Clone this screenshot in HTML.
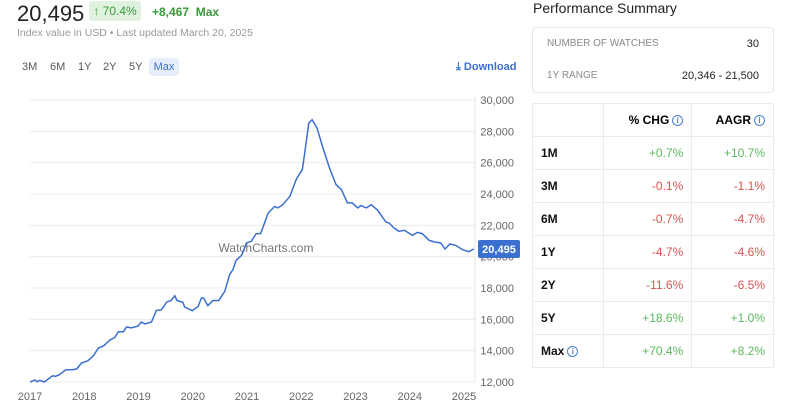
<!DOCTYPE html>
<html><head><meta charset="utf-8"><style>
body{margin:0;width:800px;height:409px;overflow:hidden;background:#fff;font-family:"Liberation Sans",sans-serif;position:relative}
.a{position:absolute}
.sum{left:532px;top:27px;width:240px;height:64px;border:1px solid #e6e8eb;border-radius:4px}
table{position:absolute;left:532px;top:103px;width:242px;border-collapse:collapse}
td{border:1px solid #e9ebee;height:32px;font-size:12px;padding:0 8px;text-align:right}
td:first-child{text-align:left;font-weight:bold;color:#111;width:54px}
.g{color:#5cb85c}.r{color:#d9534f}
.i{display:inline-block;width:9px;height:9px;border:1px solid #4a7fd6;border-radius:50%;font-size:8px;line-height:9px;text-align:center;color:#4a7fd6;font-weight:bold;vertical-align:1px;margin-left:3px}
.tab{font-size:11px;color:#555;top:58px;height:18px;line-height:18px}
</style></head><body>
<div class="a" style="left:17px;top:1px;font-size:22px;color:#222;line-height:26px">20,495</div>
<div class="a" style="left:89px;top:1px;width:52px;height:20px;background:#dff1df;border-radius:3px;color:#3a9a3a;font-size:12px;line-height:20px;text-align:center">↑ 70.4%</div>
<div class="a" style="left:152px;top:5px;font-size:12px;color:#3a9a3a;font-weight:bold">+8,467&nbsp; Max</div>
<div class="a" style="left:17px;top:27px;font-size:10.5px;color:#999">Index value in USD • Last updated March 20, 2025</div>
<div class="a tab" style="left:22px">3M</div>
<div class="a tab" style="left:50px">6M</div>
<div class="a tab" style="left:78px">1Y</div>
<div class="a tab" style="left:103px">2Y</div>
<div class="a tab" style="left:129px">5Y</div>
<div class="a tab" style="left:149px;width:30px;background:#e6eefb;border-radius:4px;text-align:center;color:#3b6fd0">Max</div>
<div class="a" style="left:456px;top:61px;font-size:11px;color:#3b6fd0;font-weight:bold;line-height:12px">⤓ Download</div>

<svg class="a" style="left:0;top:0" width="530" height="409">
<g id="grid"></g><g id="xt"></g>
<text x="266" y="252" text-anchor="middle" font-size="12" fill="#777">WatchCharts.com</text>
<path id="line" fill="none" stroke="#3b6fd0" stroke-width="1.5"/>
<rect x="478" y="240" width="42" height="18" rx="2" fill="#3b6fd0"/>
<text x="499" y="253" text-anchor="middle" font-size="11" font-weight="bold" fill="#fff">20,495</text>
</svg>

<div class="a" style="left:533px;top:0;font-size:14px;color:#222">Performance Summary</div>
<div class="a sum">
<div class="a" style="left:14px;top:10px;font-size:10px;color:#888">NUMBER OF WATCHES</div>
<div class="a" style="right:14px;top:10px;font-size:11px;color:#222">30</div>
<div class="a" style="left:14px;top:42px;font-size:10px;color:#888">1Y RANGE</div>
<div class="a" style="right:14px;top:42px;font-size:11px;color:#222">20,346 - 21,500</div>
</div>
<table>
<tr><td></td><td style="font-weight:bold">% CHG<span class="i">i</span></td><td style="font-weight:bold">AAGR<span class="i">i</span></td></tr>
<tr><td>1M</td><td class="g">+0.7%</td><td class="g">+10.7%</td></tr>
<tr><td>3M</td><td class="r">-0.1%</td><td class="r">-1.1%</td></tr>
<tr><td>6M</td><td class="r">-0.7%</td><td class="r">-4.7%</td></tr>
<tr><td>1Y</td><td class="r">-4.7%</td><td class="r">-4.6%</td></tr>
<tr><td>2Y</td><td class="r">-11.6%</td><td class="r">-6.5%</td></tr>
<tr><td>5Y</td><td class="g">+18.6%</td><td class="g">+1.0%</td></tr>
<tr><td>Max<span class="i">i</span></td><td class="g">+70.4%</td><td class="g">+8.2%</td></tr>
</table>
<script>
const dates=[2017.0,2017.06,2017.09,2017.13,2017.18,2017.26,2017.42,2017.46,2017.54,2017.66,2017.77,2017.86,2017.95,2018.07,2018.17,2018.26,2018.36,2018.48,2018.56,2018.63,2018.72,2018.78,2018.87,2018.99,2019.05,2019.12,2019.24,2019.33,2019.42,2019.52,2019.60,2019.67,2019.71,2019.82,2019.85,2019.99,2020.10,2020.16,2020.20,2020.28,2020.37,2020.48,2020.59,2020.68,2020.74,2020.80,2020.90,2020.99,2021.08,2021.17,2021.25,2021.39,2021.51,2021.57,2021.66,2021.79,2021.91,2022.02,2022.06,2022.14,2022.20,2022.29,2022.40,2022.52,2022.64,2022.74,2022.85,2022.94,2023.04,2023.10,2023.20,2023.29,2023.41,2023.56,2023.62,2023.71,2023.80,2023.90,2024.05,2024.14,2024.23,2024.36,2024.45,2024.57,2024.65,2024.74,2024.85,2024.97,2025.09,2025.18];
const values=[12000,12085,12130,12020,12110,12000,12400,12360,12460,12780,12780,12830,13210,13360,13680,14170,14320,14700,14830,15210,15210,15510,15450,15570,15830,15700,15830,16570,16600,17100,17200,17500,17200,17080,16790,16550,16830,17360,17360,16870,17200,17200,17790,18850,19170,19770,20090,20870,20980,21470,21470,22790,23210,23110,23320,23850,24960,25550,26510,28530,28740,28210,26930,25660,24600,24280,23430,23430,23110,23260,23110,23320,22960,22210,22150,21830,21620,21680,21360,21550,21470,21040,20940,20870,20490,20810,20720,20450,20320,20495];
const yTicks=[12000,14000,16000,18000,20000,22000,24000,26000,28000,30000];
const xTicks=[2017,2018,2019,2020,2021,2022,2023,2024,2025];
const X=d=>30+(d-2017)*54.25, Y=v=>382-(v-12000)*282/18000;
const NS="http://www.w3.org/2000/svg";
const grid=document.getElementById('grid'), xt=document.getElementById('xt');
yTicks.forEach(v=>{
 const l=document.createElementNS(NS,'line');
 
 
 l.setAttribute('x1',30);l.setAttribute('x2',475);l.setAttribute('y1',Y(v));l.setAttribute('y2',Y(v));
 l.setAttribute('stroke','#ececec');grid.appendChild(l);
 const t=document.createElementNS(NS,'text');
 
 
 t.setAttribute('x',514);t.setAttribute('y',Y(v)+4);t.setAttribute('text-anchor','end');
 t.setAttribute('font-size','11');t.setAttribute('fill','#666');t.textContent=v.toLocaleString('en-US');grid.appendChild(t);
});
const ax=document.createElementNS(NS,'line');


ax.setAttribute('x1',475);ax.setAttribute('x2',475);ax.setAttribute('y1',96);ax.setAttribute('y2',382);ax.setAttribute('stroke','#e6e6e6');grid.appendChild(ax);
xTicks.forEach(d=>{
 const t=document.createElementNS(NS,'text');
 
 
 t.setAttribute('x',X(d));t.setAttribute('y',400);t.setAttribute('text-anchor','middle');
 t.setAttribute('font-size','11');t.setAttribute('fill','#666');t.textContent=d;xt.appendChild(t);
});
document.getElementById('line').setAttribute('d',dates.map((d,i)=>(i?'L':'M')+X(d).toFixed(1)+' '+Y(values[i]).toFixed(1)).join(''));
</script>
</body></html>
